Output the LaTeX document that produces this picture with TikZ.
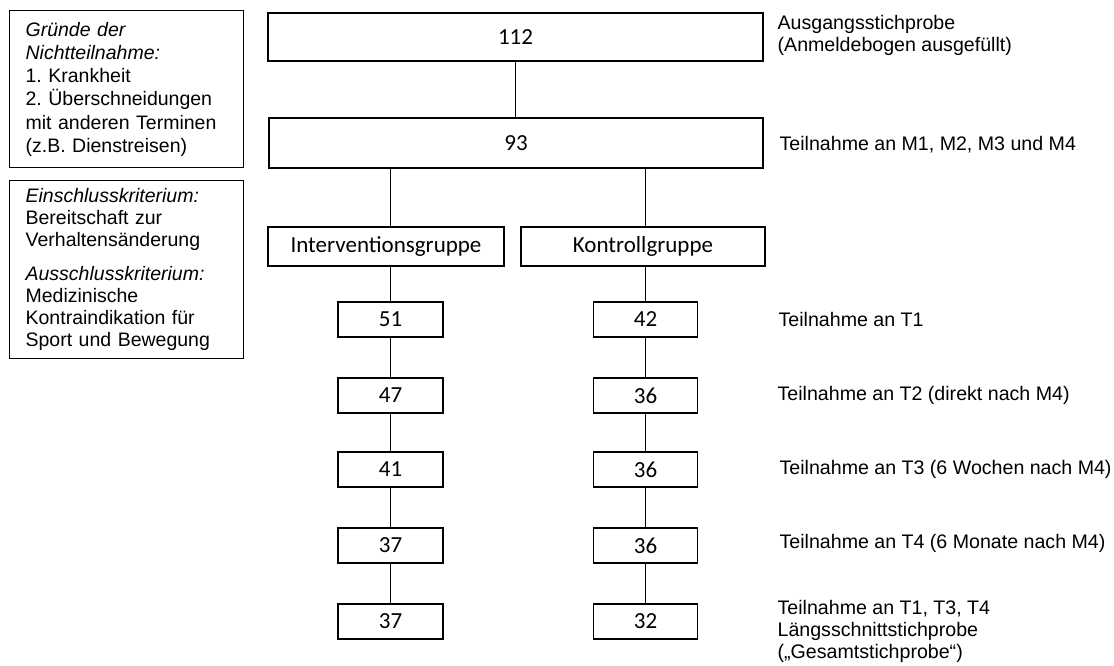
\documentclass[tikz,border=0pt]{standalone}
\usepackage{fontspec}
\setmainfont{Liberation Sans}
\newfontfamily\calfont{Carlito}
\usetikzlibrary{positioning}
\frenchspacing

\begin{document}
\begin{tikzpicture}[x=1pt, y=-1pt, line width=1.3pt,
    bx/.style={draw, rectangle, inner sep=0pt, font=\calfont\fontsize{23}{26}\selectfont},
    nb/.style={bx, minimum width=105pt, minimum height=35pt},
    info/.style={draw, rectangle, anchor=north west, inner xsep=16pt, inner ysep=0pt, text width=202pt, align=left, font=\fontsize{19.5}{22}\selectfont},
    lbl/.style={anchor=west, align=left, inner sep=0pt, font=\fontsize{19.6}{22}\selectfont}]
    \useasboundingbox (0,0) rectangle (1114,665);

    % left info boxes
    \node[info, minimum height=157pt, font=\fontsize{19.5}{23.2}\selectfont] (gruende) at (9,10) {\textit{Gründe der}\\\textit{Nichtteilnahme:}\\1. Krankheit\\2. Überschneidungen\\mit anderen Terminen\\(z.B. Dienstreisen)};
    \node[info, minimum height=178pt] (kriterien) at (9,180) {\textit{Einschlusskriterium:}\\Bereitschaft zur\\Verhaltensänderung\\[12pt]\textit{Ausschlusskriterium:}\\Medizinische\\Kontraindikation für\\Sport und Bewegung};

    % total sample
    \node[bx, minimum width=495pt, minimum height=48pt] (n112) at (515.5,37) {112};
    \node[bx, minimum width=494pt, minimum height=50pt] (n93) at (516,143) {93};
    \node[bx, minimum width=236pt, minimum height=39pt] (ig) at (386,246.5) {Interventionsgruppe};
    \node[bx, minimum width=244pt, minimum height=39pt] (kg) at (643,246.5) {Kontrollgruppe};

    % groups over time
    \foreach \i/\a/\b/\y in {1/51/42/319.5, 2/47/36/395.5, 3/41/36/469.5, 4/37/36/545.5, 5/37/32/621.5} {
      \node[nb] (l\i) at (390.5,\y) {\a};
      \node[nb, minimum width=104pt] (r\i) at (645.5,\y) {\b};
    }

    \draw (n112.south) -- (n112.south |- n93.north);
    \draw (n93.south -| l1) -- (ig.north -| l1);
    \draw (n93.south -| r1) -- (kg.north -| r1);
    \draw (ig.south -| l1) -- (l1.north);
    \draw (kg.south -| r1) -- (r1.north);
    \foreach \a/\b in {1/2,2/3,3/4,4/5} {
      \draw (l\a) -- (l\b);
      \draw (r\a) -- (r\b);
    }

    % labels
    \node[lbl] (t0) at (777,35) {Ausgangsstichprobe\\(Anmeldebogen ausgefüllt)};
    \node[lbl] (tm) at (779,145) {Teilnahme an M1, M2, M3 und M4};
    \node[lbl] (t1) at (778,319) {Teilnahme an T1};
    \node[lbl] (t2) at (777,395) {Teilnahme an T2 (direkt nach M4)};
    \node[lbl] (t3) at (779,469) {Teilnahme an T3 (6 Wochen nach M4)};
    \node[lbl] (t4) at (779,543) {Teilnahme an T4 (6 Monate nach M4)};
    \node[lbl] (t5) at (777,631) {Teilnahme an T1, T3, T4\\Längsschnittstichprobe\\(„Gesamtstichprobe“)};
\end{tikzpicture}
\end{document}
